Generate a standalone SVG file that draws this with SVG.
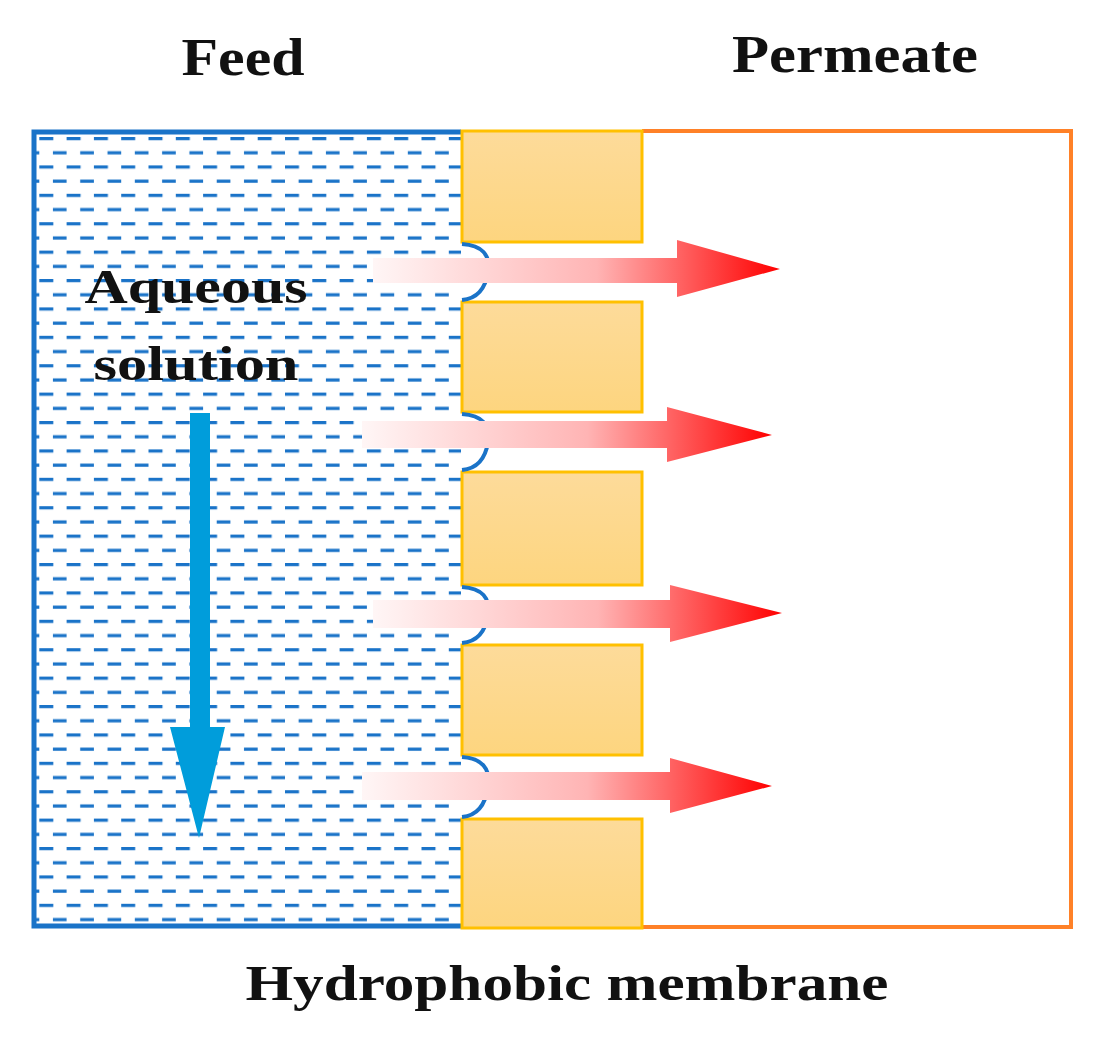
<svg xmlns="http://www.w3.org/2000/svg" width="1108" height="1037" viewBox="0 0 1108 1037">
<style>
.t{font-family:"Liberation Serif",serif;font-weight:bold;fill:#111;text-anchor:middle}
.blk{fill:url(#bg);stroke:#ffc000;stroke-width:3}
.men{fill:none;stroke:#1a73c8;stroke-width:4}
</style>
<defs>
<pattern id="dash" x="12" y="137" width="27.3" height="28.4" patternUnits="userSpaceOnUse">
<rect x="0" y="0" width="14" height="3.2" fill="#1a73c8"/>
<rect x="13.6" y="14.2" width="14" height="3.2" fill="#1a73c8"/>
</pattern>
<linearGradient id="bg" x1="0" y1="0" x2="0" y2="1"><stop offset="0" stop-color="#fddb9a"/><stop offset="1" stop-color="#fdd57f"/></linearGradient>
<linearGradient id="rg" x1="0" y1="0" x2="1" y2="0"><stop offset="0" stop-color="#fff6f6"/><stop offset="0.55" stop-color="#ffb4b4"/><stop offset="1" stop-color="#ff0000"/></linearGradient>
</defs>
<g id="feed">
<rect x="34" y="132" width="427" height="794" fill="url(#dash)"/>
<path d="M461,132 H34 V926 H461" fill="none" stroke="#1a73c8" stroke-width="5"/>
</g>
<g id="permeate">
<path d="M642,131 H1071 V927 H642" fill="none" stroke="#ff8128" stroke-width="4"/>
</g>
<g id="membrane">
<rect class="blk" x="462" y="131" width="180" height="111"/>
<rect class="blk" x="462" y="302" width="180" height="110"/>
<rect class="blk" x="462" y="472" width="180" height="113"/>
<rect class="blk" x="462" y="645" width="180" height="110"/>
<rect class="blk" x="462" y="819" width="180" height="109"/>
</g>
<g id="menisci">
<path class="men" d="M462,244 Q492,246 488,272 Q484,298 462,300"/>
<path class="men" d="M462,414 Q492,416 488,442 Q484,468 462,470"/>
<path class="men" d="M462,587 Q492,589 488,615 Q484,641 462,643"/>
<path class="men" d="M462,757 Q492,759 488,787 Q484,815 462,817"/>
</g>
<g id="connectors">
<polygon fill="url(#rg)" points="373,258 677,258 677,240 780,269 677,297 677,283 373,283"/>
<polygon fill="url(#rg)" points="362,421 667,421 667,407 772,435 667,462 667,448 362,448"/>
<polygon fill="url(#rg)" points="373,600 670,600 670,585 782,613 670,642 670,628 373,628"/>
<polygon fill="url(#rg)" points="362,772 670,772 670,758 772,786 670,813 670,800 362,800"/>
<polygon fill="#009ddb" points="190,413 210,413 210,727 225,727 199,838 170,727 190,727"/>
</g>
<text class="t" x="243" y="75" font-size="52" textLength="123" lengthAdjust="spacingAndGlyphs">Feed</text>
<text class="t" x="855" y="72" font-size="52" textLength="246" lengthAdjust="spacingAndGlyphs">Permeate</text>
<text class="t" x="196" y="303" font-size="48" textLength="223" lengthAdjust="spacingAndGlyphs">Aqueous</text>
<text class="t" x="196" y="380" font-size="48" textLength="205" lengthAdjust="spacingAndGlyphs">solution</text>
<text class="t" x="567" y="1000" font-size="50" textLength="643" lengthAdjust="spacingAndGlyphs">Hydrophobic membrane</text>
</svg>
